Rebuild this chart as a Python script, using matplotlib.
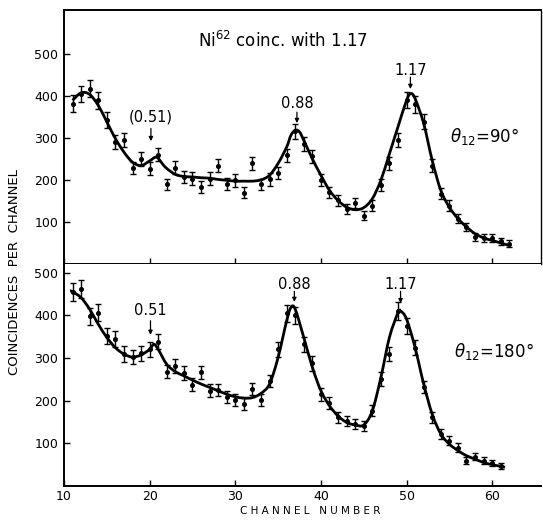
import numpy as np
import matplotlib
matplotlib.use("Agg")
import matplotlib.pyplot as plt
from matplotlib.path import Path
from matplotlib.patches import PathPatch

# ---------------- data ----------------
ch_top = list(range(11, 63))
cnt_top = [381, 404, 417, 389, 342, 290, 294, 228, 250, 227, 260, 189, 229, 207, 203, 183,
           203, 234, 191, 199, 169, 239, 189, 201, 216, 258, 315, 286, 256, 199, 171, 151,
           131, 145, 115, 139, 187, 239, 294, 390, 380, 338, 234, 167, 139, 108, 88, 64,
           62, 62, 54, 48]
err_top = [20, 20, 21, 20, 19, 17, 17, 15, 16, 15, 16, 14, 15, 15, 15, 14,
           15, 15, 14, 15, 13, 16, 14, 15, 15, 16, 18, 17, 16, 14, 13, 12,
           12, 12, 11, 12, 14, 16, 17, 20, 20, 18, 15, 13, 12, 10, 10, 9,
           9, 9, 8, 8]

curve_x_top = [11, 12, 13, 14, 15, 16, 17, 18, 19, 20, 20.8, 21.5, 22, 23, 24, 25, 26, 27,
               28, 29, 30, 31, 32, 33, 34, 35, 36, 36.5, 37, 37.5, 38, 39, 40, 41, 42, 43,
               44, 45, 46, 47, 48, 49, 50, 50.5, 51, 52, 53, 54, 55, 56, 57, 58, 59, 60,
               61, 62]
curve_y_top = [389, 407, 403, 377, 338, 298, 266, 242, 234, 245, 254, 238, 227, 213, 208,
               207, 205, 204, 201, 199, 197, 197, 197, 200, 211, 239, 278, 306, 318, 314,
               294, 250, 211, 175, 151, 135, 129, 134, 155, 199, 262, 326, 389, 405, 393,
               334, 246, 175, 135, 108, 88, 72, 62, 56, 50, 44]

ch_bot = list(range(11, 62))
cnt_bot = [455, 461, 398, 406, 352, 344, 309, 302, 311, 320, 338, 268, 281, 264, 237, 266,
           223, 225, 209, 202, 192, 227, 202, 246, 320, 405, 400, 332, 287, 215, 194, 161,
           153, 145, 141, 176, 250, 309, 410, 375, 324, 232, 161, 122, 106, 90, 59, 69,
           59, 53, 46]
err_bot = [21, 21, 20, 20, 19, 19, 18, 17, 18, 18, 18, 16, 17, 16, 15, 16,
           15, 15, 14, 14, 14, 15, 14, 15, 17, 20, 20, 18, 17, 15, 14, 13,
           12, 12, 12, 13, 16, 17, 20, 19, 18, 15, 13, 11, 10, 10, 8, 8,
           8, 7, 7]

curve_x_bot = [10.7, 11, 12, 13, 14, 15, 16, 17, 18, 19, 20, 20.5, 21, 22, 23, 24, 25, 26,
               27, 28, 29, 30, 31, 32, 33, 34, 35, 36, 36.5, 37, 38, 39, 40, 41, 42, 43,
               44, 45, 46, 47, 48, 49, 49.3, 50, 51, 52, 53, 54, 55, 56, 57, 58, 59, 60,
               61, 61.5]
curve_y_bot = [457, 455, 441, 414, 379, 348, 324, 309, 302, 307, 320, 332, 320, 285, 268,
               258, 248, 239, 231, 223, 215, 209, 206, 207, 217, 239, 301, 387, 418, 414,
               348, 278, 223, 188, 164, 149, 143, 143, 176, 254, 348, 406, 410, 391, 324,
               239, 168, 122, 98, 83, 71, 63, 55, 50, 46, 44]

y_ticks = [100, 200, 300, 400, 500]
x_ticks = [10, 20, 30, 40, 50, 60]

# ---------------- helpers ----------------
def smooth_path(xs, ys):
    pts = np.column_stack([xs, ys]).astype(float)
    n = len(pts)
    verts = [pts[0]]
    codes = [Path.MOVETO]
    for i in range(n - 1):
        p0 = pts[i - 1] if i > 0 else pts[i]
        p1 = pts[i]
        p2 = pts[i + 1]
        p3 = pts[i + 2] if i + 2 < n else pts[i + 1]
        c1 = p1 + (p2 - p0) / 6.0
        c2 = p2 - (p3 - p1) / 6.0
        verts += [c1, c2, p2]
        codes += [Path.CURVE4] * 3
    return Path(verts, codes)

W, H = 543, 521
fig = plt.figure(figsize=(W / 100, H / 100), dpi=100)
plt.rcParams['font.family'] = ['DejaVu Sans']

left = 64 / W
right = 541 / W
ax1 = fig.add_axes([left, 1 - 264 / H, right - left, (264 - 9.5) / H])
ax2 = fig.add_axes([left, 1 - 486 / H, right - left, (486 - 264) / H])

for ax, chs, cnts, errs, cx, cy, ymax in [
        (ax1, ch_top, cnt_top, err_top, curve_x_top, curve_y_top, 605),
        (ax2, ch_bot, cnt_bot, err_bot, curve_x_bot, curve_y_bot, 520)]:
    ax.errorbar(chs, cnts, yerr=errs, fmt='o', color='black', ms=2.6,
                elinewidth=1.0, capsize=2.3, capthick=1.0)
    ax.add_patch(PathPatch(smooth_path(cx, cy), facecolor='none',
                           edgecolor='black', lw=2.0))
    ax.set_xlim(10, 65.7)
    ax.set_ylim(0, ymax)
    ax.set_yticks(y_ticks)
    ax.set_yticklabels([str(v) for v in y_ticks])
    ax.set_xticks(x_ticks)
    ax.tick_params(axis='both', direction='in', length=4, width=1.0,
                   labelsize=9, pad=4)
    for s in ax.spines.values():
        s.set_linewidth(1.4)

ax1.tick_params(axis='x', labelbottom=False)
ax1.spines['right'].set_linewidth(1.0)
ax2.spines['top'].set_visible(False)
ax2.spines['right'].set_visible(False)
ax2.tick_params(axis='x', pad=3)

# ---------- annotations: upper ----------
ax1.text(25.6, 516, r"Ni$^{62}$ coinc. with 1.17", fontsize=12, ha='left', va='baseline')

def mark(ax, x, ty, label, y0, y1):
    ax.text(x, ty, label, fontsize=10.5, ha='center', va='center')
    ax.annotate('', xy=(x, y1), xytext=(x, y0),
                arrowprops=dict(arrowstyle='-|>', color='black', lw=0.9,
                                mutation_scale=6, shrinkA=0, shrinkB=0))

mark(ax1, 20.15, 350, "(0.51)", 322, 292)
mark(ax1, 37.2, 382, "0.88", 361, 335)
mark(ax1, 50.45, 461, "1.17", 444, 416)
ax1.text(55.1, 290, r"$\theta_{12}$=90°", fontsize=12, ha='left', va='baseline')

# ---------- annotations: lower ----------
mark(ax2, 20.1, 410, "0.51", 387, 354)
mark(ax2, 36.9, 472, "0.88", 456, 431)
mark(ax2, 49.3, 472, "1.17", 456, 428)
ax2.text(55.5, 302, r"$\theta_{12}$=180°", fontsize=12, ha='left', va='baseline')

fig.text(310 / W, 1 - 511 / H, "C H A N N E L   N U M B E R", fontsize=7.5,
         ha='center', va='center')
fig.text(15 / W, 1 - 272 / H, "COINCIDENCES  PER  CHANNEL", fontsize=9.5,
         ha='center', va='center', rotation=90)

fig.savefig("out.png", dpi=100)
